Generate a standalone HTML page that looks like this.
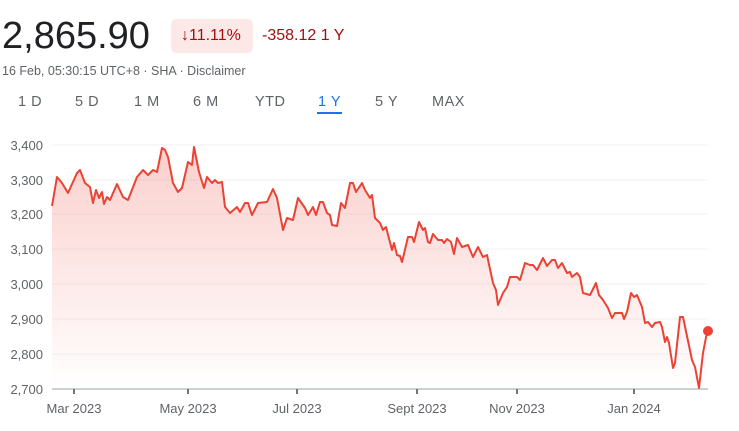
<!DOCTYPE html>
<html><head><meta charset="utf-8"><style>
body{margin:0;width:739px;height:431px;background:#fff;font-family:"Liberation Sans",sans-serif;position:relative;overflow:hidden}
.a{position:absolute;white-space:nowrap}
</style></head><body>
<div class="a" style="left:2px;top:15px;font-size:38px;color:#202124">2,865.90</div>
<div class="a" style="left:171px;top:19px;width:82px;height:34px;background:#fce8e6;border-radius:6px"></div>
<div class="a" style="left:181px;top:27px;font-size:16px;color:#a50e0e">↓11.11%</div>
<div class="a" style="left:262px;top:27px;font-size:16px;color:#a50e0e">-358.12 1 Y</div>
<div class="a" style="left:2px;top:64px;font-size:12.5px;color:#5f6368">16 Feb, 05:30:15 UTC+8 · SHA · Disclaimer</div>
<div class="a" style="top:94px;font-size:14.5px;color:#5f6368;letter-spacing:0.5px;width:739px">
<span class="a" style="left:18px">1 D</span><span class="a" style="left:75px">5 D</span><span class="a" style="left:134px">1 M</span><span class="a" style="left:193px">6 M</span><span class="a" style="left:255px">YTD</span><span class="a" style="left:318px;color:#1a73e8">1 Y</span><span class="a" style="left:375px">5 Y</span><span class="a" style="left:432px">MAX</span></div>
<div class="a" style="left:317px;top:112px;width:25px;height:2px;background:#1a73e8"></div>
<svg class="a" style="left:0;top:0" width="739" height="431">
<defs><linearGradient id="g" x1="0" y1="0" x2="0" y2="1"><stop offset="0" stop-color="#ea4335" stop-opacity="0.25"/><stop offset="1" stop-color="#ea4335" stop-opacity="0"/></linearGradient></defs>
<g stroke="#f1f1f1" stroke-width="1">
<line x1="52" x2="708" y1="145" y2="145"/><line x1="52" x2="708" y1="180" y2="180"/><line x1="52" x2="708" y1="214" y2="214"/><line x1="52" x2="708" y1="249" y2="249"/><line x1="52" x2="708" y1="284" y2="284"/><line x1="52" x2="708" y1="319" y2="319"/><line x1="52" x2="708" y1="354" y2="354"/></g>
<g font-size="13" fill="#5f6368" text-anchor="end">
<text x="43" y="150">3,400</text><text x="43" y="185">3,300</text><text x="43" y="219">3,200</text><text x="43" y="254">3,100</text><text x="43" y="289">3,000</text><text x="43" y="324">2,900</text><text x="43" y="359">2,800</text><text x="43" y="394">2,700</text></g>
<polygon fill="url(#g)" points="52,389 52,206 57,177 62,183 68,193 77,173 80,170 85,183 90,187 93,203 96,190 99,198 102,192 104,204 107,197 110,200 117,184 123,197 128,200 137,177 143,170 148,175 153,170 157,172 162,148 165,150 168,157 173,183 178,192 182,188 188,162 192,165 194,147 199,172 204,188 207,177 212,183 215,180 218,183 222,182 225,207 230,213 237,207 240,212 245,203 248,203 252,215 258,203 267,202 273,189 277,198 283,230 287,218 293,220 298,198 305,208 308,215 313,207 316,215 320,202 323,202 327,213 330,215 332,225 337,226 341,203 345,208 350,183 353,183 356,192 362,183 365,190 370,198 372,195 375,218 380,223 383,230 386,227 392,250 394,243 397,255 400,256 402,262 408,237 412,237 414,242 419,222 423,230 425,228 428,242 430,243 433,234 438,240 442,240 444,243 447,239 451,242 454,254 457,238 462,247 468,245 473,257 478,247 483,257 487,255 493,283 496,290 498,305 503,293 507,287 510,277 517,277 520,280 525,263 530,265 533,265 537,270 543,258 547,266 552,260 555,260 558,268 562,263 567,273 570,272 572,277 577,273 580,277 583,293 590,295 596,283 599,295 603,300 608,308 612,318 615,313 622,313 624,319 627,312 631,293 634,297 637,295 642,307 645,323 648,322 652,327 655,323 660,322 662,327 665,342 667,337 669,343 673,368 675,363 680,317 683,317 692,360 695,367 699,388 703,353 707,332 707,389"/>
<polyline fill="none" stroke="#ea4335" stroke-width="2" stroke-linejoin="round" points="52,206 57,177 62,183 68,193 77,173 80,170 85,183 90,187 93,203 96,190 99,198 102,192 104,204 107,197 110,200 117,184 123,197 128,200 137,177 143,170 148,175 153,170 157,172 162,148 165,150 168,157 173,183 178,192 182,188 188,162 192,165 194,147 199,172 204,188 207,177 212,183 215,180 218,183 222,182 225,207 230,213 237,207 240,212 245,203 248,203 252,215 258,203 267,202 273,189 277,198 283,230 287,218 293,220 298,198 305,208 308,215 313,207 316,215 320,202 323,202 327,213 330,215 332,225 337,226 341,203 345,208 350,183 353,183 356,192 362,183 365,190 370,198 372,195 375,218 380,223 383,230 386,227 392,250 394,243 397,255 400,256 402,262 408,237 412,237 414,242 419,222 423,230 425,228 428,242 430,243 433,234 438,240 442,240 444,243 447,239 451,242 454,254 457,238 462,247 468,245 473,257 478,247 483,257 487,255 493,283 496,290 498,305 503,293 507,287 510,277 517,277 520,280 525,263 530,265 533,265 537,270 543,258 547,266 552,260 555,260 558,268 562,263 567,273 570,272 572,277 577,273 580,277 583,293 590,295 596,283 599,295 603,300 608,308 612,318 615,313 622,313 624,319 627,312 631,293 634,297 637,295 642,307 645,323 648,322 652,327 655,323 660,322 662,327 665,342 667,337 669,343 673,368 675,363 680,317 683,317 692,360 695,367 699,388 703,353 707,332"/>
<line x1="52" x2="708" y1="389" y2="389" stroke="#9aa0a6" stroke-width="1"/>
<g stroke="#70757a" stroke-width="2"><line x1="74" x2="74" y1="389" y2="394"/><line x1="188" x2="188" y1="389" y2="394"/><line x1="297" x2="297" y1="389" y2="394"/><line x1="417" x2="417" y1="389" y2="394"/><line x1="517" x2="517" y1="389" y2="394"/><line x1="634" x2="634" y1="389" y2="394"/></g>
<g font-size="13" fill="#5f6368" text-anchor="middle"><text x="74" y="413">Mar 2023</text><text x="188" y="413">May 2023</text><text x="297" y="413">Jul 2023</text><text x="417" y="413">Sept 2023</text><text x="517" y="413">Nov 2023</text><text x="634" y="413">Jan 2024</text></g>
<circle cx="708" cy="331" r="5" fill="#ea4335"/>
</svg>
</body></html>
